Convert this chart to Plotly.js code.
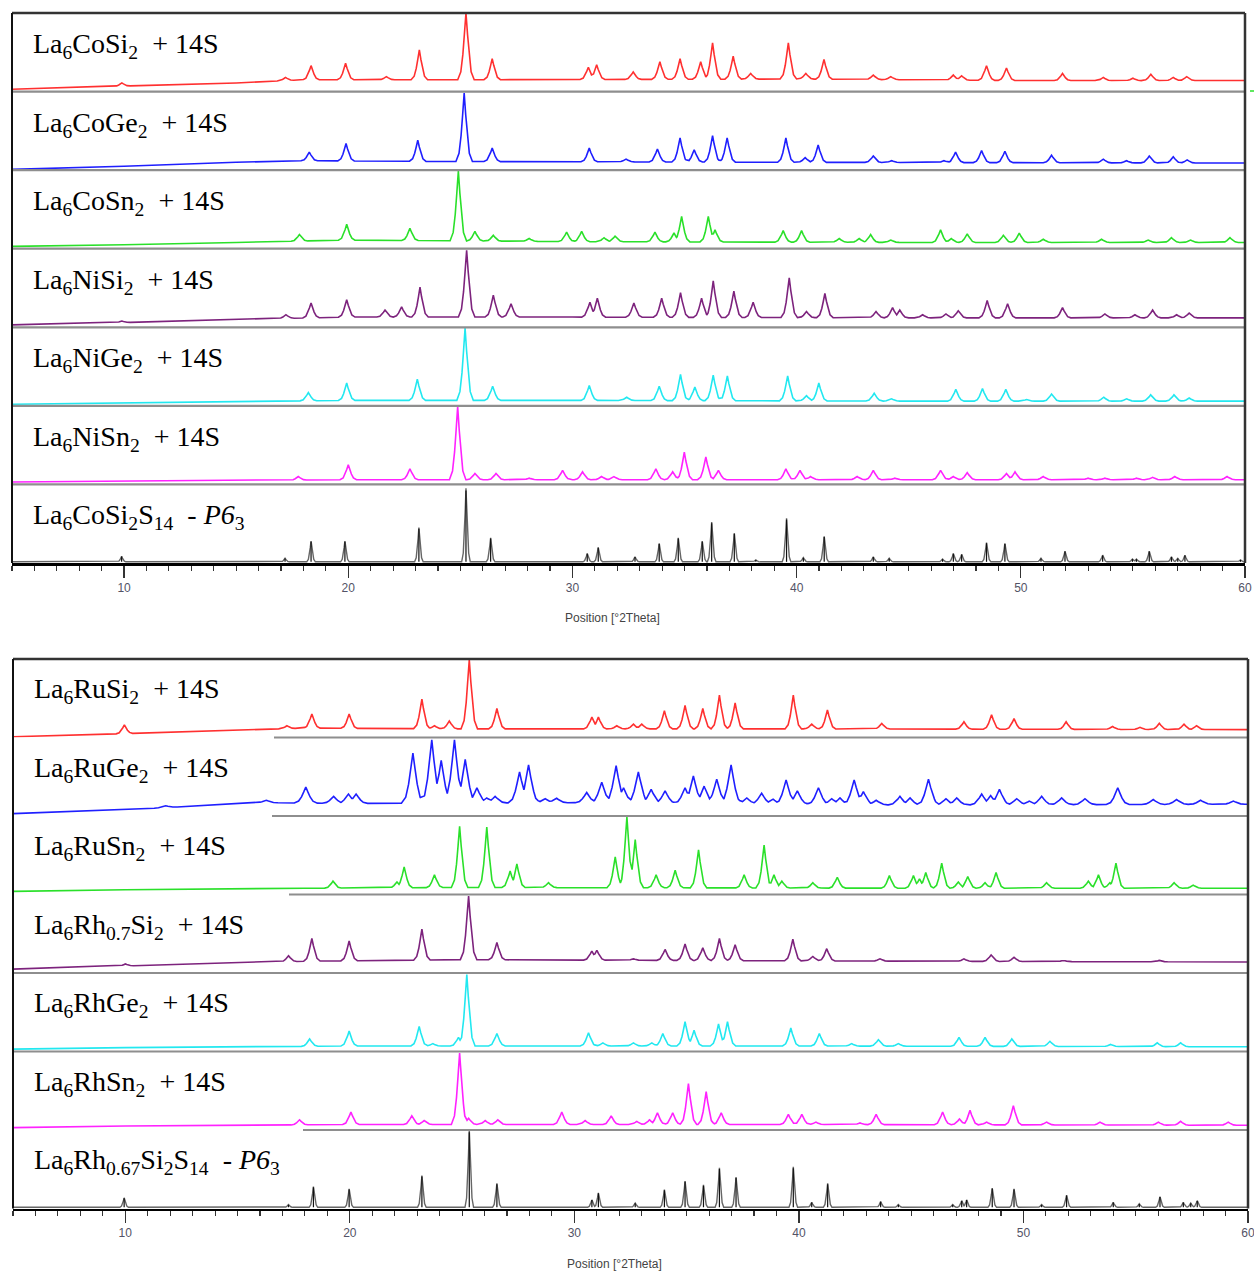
<!DOCTYPE html>
<html><head><meta charset="utf-8">
<script src="https://cdn.plot.ly/plotly-3.0.1.min.js"></script>
<style>html,body{margin:0;padding:0;background:#fff}</style>
</head><body><div id="chart" style="width:1254px;height:1272px"></div>
<script>
// ---------------- DATA (2θ positions in degrees, intensities in % of strip height) ----------------
const labels = [
  "La<sub>6</sub>CoSi<sub>2</sub>\u00A0 + 14S",
  "La<sub>6</sub>CoGe<sub>2</sub>\u00A0 + 14S",
  "La<sub>6</sub>CoSn<sub>2</sub>\u00A0 + 14S",
  "La<sub>6</sub>NiSi<sub>2</sub>\u00A0 + 14S",
  "La<sub>6</sub>NiGe<sub>2</sub>\u00A0 + 14S",
  "La<sub>6</sub>NiSn<sub>2</sub>\u00A0 + 14S",
  "La<sub>6</sub>CoSi<sub>2</sub>S<sub>14</sub>\u00A0 - <i>P6</i><sub>3</sub>",
  "La<sub>6</sub>RuSi<sub>2</sub>\u00A0 + 14S",
  "La<sub>6</sub>RuGe<sub>2</sub>\u00A0 + 14S",
  "La<sub>6</sub>RuSn<sub>2</sub>\u00A0 + 14S",
  "La<sub>6</sub>Rh<sub>0.7</sub>Si<sub>2</sub>\u00A0 + 14S",
  "La<sub>6</sub>RhGe<sub>2</sub>\u00A0 + 14S",
  "La<sub>6</sub>RhSn<sub>2</sub>\u00A0 + 14S",
  "La<sub>6</sub>Rh<sub>0.67</sub>Si<sub>2</sub>S<sub>14</sub>\u00A0 - <i>P6</i><sub>3</sub>"
];
const tickValues = [10, 20, 30, 40, 50, 60];
const axisTitle = "Position [°2Theta]";

// La6CoSi2 + 14S
const coSi_pos = [9.9,17.2,18.34,19.88,21.7,23.17,25.25,26.42,30.71,31.08,32.71,33.9,34.8,35.72,36.25,37.17,37.95,39.63,40.41,41.22,43.42,44.2,46.99,47.36,48.47,49.36,51.86,53.68,55.0,55.8,56.8,57.4];
const coSi_int = [11,18,33,36,19,53,100,42,31,34,25,38,42,38,62,45,23,62,23,41,21,19,21,20,33,30,23,18,17,22,18,19];
const coSi_bgPos = [5,10,15,18,25,40,50,60];
const coSi_bgInt = [3,7,11,15,15,16,14,14];
// La6CoGe2 + 14S
const coGe_pos = [18.26,19.9,23.1,25.17,26.42,30.75,32.39,33.79,34.8,35.43,36.25,36.9,39.52,40.38,40.96,43.42,44.24,46.57,47.09,48.25,49.29,51.37,53.68,54.72,55.73,56.8,57.42];
const coGe_int = [23,34,38,98,28,28,14,27,41,26,44,41,41,16,32,18,12,12,23,25,24,19,14,12,18,17,13];
const coGe_bgPos = [5,10,15,18,25,40,60];
const coGe_bgInt = [1,5,10,12,11,10,9];
// La6CoSn2 + 14S
const coSn_pos = [17.82,19.93,22.75,24.91,25.65,26.47,28.07,29.74,30.41,31.41,31.9,33.68,34.53,34.87,36.06,36.36,39.4,40.22,41.9,42.79,43.3,44.2,46.42,46.9,47.61,49.22,49.93,51.0,53.6,55.68,56.72,57.57,59.33];
const coSn_int = [18,31,26,99,22,17,13,21,22,14,16,21,20,41,41,24,23,23,13,13,18,11,24,13,19,17,20,12,12,11,14,11,14];
const coSn_bgPos = [5,10,15,20,30,45,60];
const coSn_bgInt = [3,5,8,11,9,8,8];
// La6NiSi2 + 14S
const niSi_pos = [9.9,17.22,18.34,19.93,21.64,22.38,23.2,25.28,26.47,27.26,30.78,31.11,32.74,33.98,34.82,35.76,36.28,37.2,38.06,39.67,40.44,41.26,43.54,44.28,44.6,45.62,46.66,47.21,48.5,49.41,51.86,53.75,55.09,55.88,56.95,57.51];
const niSi_int = [8,16,31,35,22,26,51,98,41,30,32,37,31,37,44,37,59,46,32,63,20,43,20,25,22,16,17,21,34,30,25,17,16,22,16,18];
const niSi_bgPos = [5,10,15,20,30,45,60];
const niSi_bgInt = [3,6,10,13,13,12,12];
// La6NiGe2 + 14S
const niGe_pos = [18.22,19.93,23.08,25.21,26.44,30.75,32.42,33.87,34.82,35.46,36.28,36.91,39.6,40.44,40.99,43.46,44.23,47.1,48.29,49.33,50.26,51.37,53.7,54.72,55.79,56.83,57.51];
const niGe_int = [17,29,34,99,25,26,11,25,40,24,39,38,38,13,29,16,9,21,22,21,8,15,11,9,14,14,10];
const niGe_bgPos = [5,10,20,30,45,60];
const niGe_bgInt = [2,4,7,7,6,6];
// La6NiSn2 + 14S
const niSn_pos = [17.77,20.0,22.75,24.88,25.65,26.59,28.07,29.56,30.45,31.3,31.85,33.72,34.47,34.99,35.95,36.51,39.52,40.15,40.62,42.7,43.42,44.38,46.42,46.99,47.61,49.36,49.74,51.0,53.0,53.75,55.16,55.88,56.87,59.2];
const niSn_int = [10,25,20,99,14,14,8,18,16,10,10,20,16,41,35,18,20,18,10,10,18,8,18,10,15,14,16,10,8,8,8,9,10,10];
const niSn_bgPos = [5,10,20,30,45,60];
const niSn_bgInt = [3,4,6,6,6,6];
// La6CoSi2S14 (P6_3) calculated
const refCo_pos = [9.89,17.18,18.34,19.85,23.15,25.25,26.35,30.66,31.15,32.79,33.87,34.72,35.79,36.21,37.22,38.18,39.55,40.3,41.23,43.42,44.13,46.51,46.99,47.36,48.47,49.29,50.9,51.97,53.65,54.98,55.16,55.73,56.72,57.0,57.32,59.8];
const refCo_int = [8.5,6,28,28,45,95,32,12,20,8,25,32,28,52,38,4,57,7,34,8,6,5,12,11,26,25,6,15,10,5,5,15,8,6,10,4];
const refCo_bgPos = [5,60];
const refCo_bgInt = [1.5,1.5];
// La6RuSi2 + 14S
const ruSi_pos = [9.96,17.2,18.31,19.97,23.21,23.77,24.43,25.32,26.55,30.78,31.07,31.89,32.63,33.0,34.01,34.93,35.72,36.46,37.16,39.75,40.57,41.27,43.69,47.35,48.58,49.58,51.9,53.97,55.19,56.05,57.15,57.71];
const ruSi_int = [16,15,30,30,49,15,21,99,37,26,26,15,17,17,34,41,37,54,44,54,17,35,18,20,29,24,20,14,13,18,17,15];
const ruSi_bgPos = [5,10,18,25,40,60];
const ruSi_bgInt = [1,5,12,11,11,10];
// La6RuGe2 + 14S
const ruGe_pos = [11.8,13.4,16.28,18.04,19.28,19.94,20.28,22.81,23.65,24.07,24.66,25.14,25.66,26.1,26.47,27.56,27.96,28.7,29.19,30.55,31.22,31.86,32.19,32.85,33.42,34.04,34.93,35.3,35.78,36.34,36.98,37.68,38.34,38.83,39.43,39.93,40.87,41.46,41.83,42.46,42.87,43.44,44.5,44.95,45.77,46.55,47.03,48.14,48.54,48.93,49.7,50.26,50.81,51.7,52.74,54.2,55.78,56.82,57.89,59.35];
const ruGe_int = [13,13,20,37,25,28,28,80,97,71,97,72,36,23,25,56,65,22,23,30,43,64,36,56,34,32,36,51,38,47,65,23,29,22,46,32,36,22,23,46,31,20,25,23,47,22,23,28,26,34,22,19,25,23,22,36,21,21,20,19];
const ruGe_bgPos = [5,10,16,20,30,45,60];
const ruGe_bgInt = [3,8,17,16,17,14,15];
// La6RuSn2 + 14S
const ruSn_pos = [19.25,22.1,22.42,23.77,24.89,26.1,27.14,27.44,28.85,31.82,32.34,32.71,33.64,34.49,35.53,37.56,38.45,38.89,39.24,40.62,41.71,44.03,45.1,45.37,45.65,46.36,47.1,47.52,48.29,48.78,51.03,52.89,53.34,53.85,54.12,56.71,57.56];
const ruSn_int = [17,16,35,25,87,86,30,39,15,48,99,70,25,31,57,25,63,25,17,15,22,24,24,20,28,40,16,23,15,28,15,17,25,15,40,15,12];
const ruSn_bgPos = [5,10,18,25,45,60];
const ruSn_bgInt = [4,6,8,9,8,8];
// La6Rh0.7Si2 + 14S
const rhSi_pos = [10.0,17.27,18.31,19.97,23.21,25.29,26.55,30.78,31.0,32.63,34.04,34.93,35.72,36.46,37.16,39.73,40.62,41.24,43.61,47.35,48.56,49.58,51.78,56.05];
const rhSi_int = [11.5,22,44,41,56,98,39,28,29,18,30,37,32,44,36,43,21,31,18,18,23,20,16,16];
const rhSi_bgPos = [5,10,18,25,45,60];
const rhSi_bgInt = [5,9,15,17,15,14];
// La6RhGe2 + 14S
const rhGe_pos = [18.21,19.97,23.09,23.7,24.84,25.21,26.55,30.63,31.27,32.63,33.45,33.94,34.93,35.33,36.42,36.82,39.64,40.91,42.35,43.54,44.43,47.13,48.29,49.48,51.18,53.88,55.96,57.0];
const rhGe_int = [16,26,32,10,18,98,23,24,11,11,11,23,38,27,35,38,30,23,10,15,10,18,18,16,13,9,11,11];
const rhGe_bgPos = [5,10,20,40,60];
const rhGe_bgInt = [3,5,7,7,6];
// La6RhSn2 + 14S
const rhSn_pos = [17.76,20.05,22.76,23.31,24.89,25.29,26.03,26.59,29.44,30.48,31.64,32.78,33.35,33.7,34.38,35.08,35.87,36.54,39.53,40.13,40.76,42.72,43.44,46.4,47.15,47.62,48.36,49.55,51.03,53.41,56.01,57.0,59.12];
const rhSn_int = [13,23,18,12,98,15,12,13,23,12,18,11,13,22,22,59,49,22,20,20,10,9,20,23,14,25,10,31,10,10,10,11,10];
const rhSn_bgPos = [5,10,20,40,60];
const rhSn_bgInt = [3,5,7,7,6];
// La6Rh0.67Si2S14 (P6_3) calculated
const refRh_pos = [9.95,17.27,18.38,19.97,23.21,25.32,26.55,30.78,31.07,32.71,34.01,34.93,35.75,36.46,37.2,39.75,40.57,41.28,43.64,44.43,46.85,47.25,47.47,48.61,49.58,50.81,51.92,54.0,55.16,56.08,57.12,57.45,57.74];
const refRh_int = [13.6,5,28,25,42,100,32,11,20,7,24,35,30,52,40,53,8,32,9,5,5,10,11,26,25,5,17,8,6,15,8,7,10];
const refRh_bgPos = [5,60];
const refRh_bgInt = [1.5,1.5];

// ---------------- STYLE ----------------
const rowColors = ['#ff3030','#1f1fff','#2ae02a','#7d237d','#22e8f0','#ff22ff','#666666',
                   '#ff3030','#1f1fff','#2ae02a','#7d237d','#22e8f0','#ff22ff','#666666'];
const rows = [
  [coSi_pos,coSi_int,coSi_bgPos,coSi_bgInt,'exp'],
  [coGe_pos,coGe_int,coGe_bgPos,coGe_bgInt,'exp'],
  [coSn_pos,coSn_int,coSn_bgPos,coSn_bgInt,'exp'],
  [niSi_pos,niSi_int,niSi_bgPos,niSi_bgInt,'exp'],
  [niGe_pos,niGe_int,niGe_bgPos,niGe_bgInt,'exp'],
  [niSn_pos,niSn_int,niSn_bgPos,niSn_bgInt,'exp'],
  [refCo_pos,refCo_int,refCo_bgPos,refCo_bgInt,'ref'],
  [ruSi_pos,ruSi_int,ruSi_bgPos,ruSi_bgInt,'exp'],
  [ruGe_pos,ruGe_int,ruGe_bgPos,ruGe_bgInt,'broad'],
  [ruSn_pos,ruSn_int,ruSn_bgPos,ruSn_bgInt,'exp'],
  [rhSi_pos,rhSi_int,rhSi_bgPos,rhSi_bgInt,'exp'],
  [rhGe_pos,rhGe_int,rhGe_bgPos,rhGe_bgInt,'exp'],
  [rhSn_pos,rhSn_int,rhSn_bgPos,rhSn_bgInt,'exp'],
  [refRh_pos,refRh_int,refRh_bgPos,refRh_bgInt,'ref']
];
// peak outline template (offset from centre in degrees, fraction of peak height)
const knotOff = [0, 0.06, 0.12, 0.2, 0.32];
const knotFrac = [1, 0.68, 0.38, 0.12, 0];
const widthScale = {exp:1.15, broad:1.6, ref:0.6};

function lin(xs, ys, x){
  if (x <= xs[0]) return ys[0];
  for (let i=1;i<xs.length;i++){ if (x <= xs[i]) { const t=(x-xs[i-1])/(xs[i]-xs[i-1]); return ys[i-1]+t*(ys[i]-ys[i-1]); } }
  return ys[ys.length-1];
}
function outline(pos, top, bx, by, kind){
  const s = widthScale[kind];
  const offs = knotOff.map(o=>o*s);
  const set = new Set(bx.concat([5,60]));
  pos.forEach(p => offs.forEach(o => { set.add(+(p-o).toFixed(4)); set.add(+(p+o).toFixed(4)); }));
  const xs = [...set].filter(v=>v>=5&&v<=60).sort((a,b)=>a-b);
  const amp = pos.map((p,i)=>Math.max(0, top[i]-lin(bx,by,p)));
  const ys = xs.map(x=>{
    let m = 0;
    pos.forEach((p,i)=>{ const d=Math.abs(x-p); if (d<offs[offs.length-1]) m=Math.max(m, amp[i]*lin(offs,knotFrac,d)); });
    return lin(bx,by,x)+m;
  });
  return {xs, ys};
}

// ---------------- LAYOUT GEOMETRY ----------------
const W=1254, H=1272;
const fx=p=>p/W, fy=p=>1-p/H;
const panels = [{x0:12,x1:1245,y0:13,y1:563,labelX:31,labelDy:13,titleX:612,titleY:618},
                {x0:13,x1:1248,y0:659,y1:1208.5,labelX:32,labelDy:12,titleX:614,titleY:1264}];
const sepStart = [[12,12,12,12,12,12],[274,272,289,13,13,303]];

const traces=[], shapes=[], annotations=[];
const layout = {width:W,height:H,margin:{l:0,r:0,t:0,b:0},paper_bgcolor:'#fff',plot_bgcolor:'rgba(0,0,0,0)',showlegend:false};
const axisFont = {family:'Arial, Liberation Sans, sans-serif', size:12, color:'#535366'};

panels.forEach((P,pi)=>{
  const rh=(P.y1-P.y0)/7;
  const xName = pi===0?'x':'x2';
  const xKey = pi===0?'xaxis':'xaxis2';
  layout[xKey] = {
    domain:[fx(P.x0),fx(P.x1)], range:[5,60], anchor:'y'+(pi*7+7),
    showline:true, linecolor:'#000', linewidth:2.5, showgrid:false, zeroline:false,
    ticks:'outside', ticklen:12, tickwidth:1.3, tickcolor:'#333', tickvals:tickValues,
    minor:{dtick:1, tick0:0, ticks:'outside', ticklen:5, tickwidth:1.1, tickcolor:'#333', showgrid:false},
    tickfont:axisFont, ticklabelstandoff:0, ticklabeloverflow:'allow',
    fixedrange:true
  };
  // axis title, placed where the reference shows it
  annotations.push({xref:'paper',yref:'paper',x:fx(P.titleX),y:fy(P.titleY),xanchor:'center',yanchor:'middle',
    text:axisTitle,showarrow:false,font:{family:'Arial, Liberation Sans, sans-serif',size:12,color:'#444'}});
  for(let k=0;k<7;k++){
    const r=pi*7+k;
    const rt=P.y0+k*rh, rb=rt+rh;
    const yName = 'y'+(r+1);
    layout['yaxis'+(r+1)] = {domain:[fy(rb),fy(rt)], range:[0,100], anchor:xName, visible:false, fixedrange:true};
    const [pos,top,bx,by,kind]=rows[r];
    const o = outline(pos,top,bx,by,kind);
    traces.push({x:o.xs,y:o.ys,xaxis:xName,yaxis:yName,mode:'lines',
      line:{color:rowColors[r],width:kind==='ref'?1.4:1.6},hoverinfo:'skip'});
    if(kind==='ref'){
      const sx=[],sy=[];
      pos.forEach((p,i)=>{ sx.push(p,p,null); sy.push(lin(bx,by,p), top[i]*0.97, null); });
      traces.push({x:sx,y:sy,xaxis:xName,yaxis:yName,mode:'lines',line:{color:'#111',width:1.2},hoverinfo:'skip'});
    }
    annotations.push({xref:'paper',yref:'paper',x:fx(P.labelX),y:fy(rt+P.labelDy),xanchor:'left',yanchor:'top',
      text:labels[r],showarrow:false,font:{family:'Liberation Serif, Times New Roman, serif',size:28,color:'#000'}});
    if(k>0){
      shapes.push({type:'line',xref:'paper',yref:'paper',x0:fx(sepStart[pi][k-1]),x1:fx(P.x1),y0:fy(rt),y1:fy(rt),
        line:{color:'#8e8e8e',width:2.2}});
    }
  }
  // frame
  shapes.push({type:'line',xref:'paper',yref:'paper',x0:fx(P.x0),x1:fx(P.x1),y0:fy(P.y0),y1:fy(P.y0),line:{color:'#333',width:2.5}});
  shapes.push({type:'line',xref:'paper',yref:'paper',x0:fx(P.x0),x1:fx(P.x0),y0:fy(P.y0),y1:fy(P.y1),line:{color:'#111',width:2}});
  shapes.push({type:'line',xref:'paper',yref:'paper',x0:fx(P.x1),x1:fx(P.x1),y0:fy(P.y0),y1:fy(P.y1),line:{color:'#333',width:2.5}});
});
// small green mark outside the right frame of the upper panel
shapes.push({type:'line',xref:'paper',yref:'paper',x0:fx(1250),x1:fx(1254),y0:fy(91),y1:fy(91),line:{color:'#2ae02a',width:1.5}});

layout.shapes=shapes; layout.annotations=annotations;
Plotly.newPlot('chart',traces,layout,{staticPlot:true,displayModeBar:false});
</script></body></html>
